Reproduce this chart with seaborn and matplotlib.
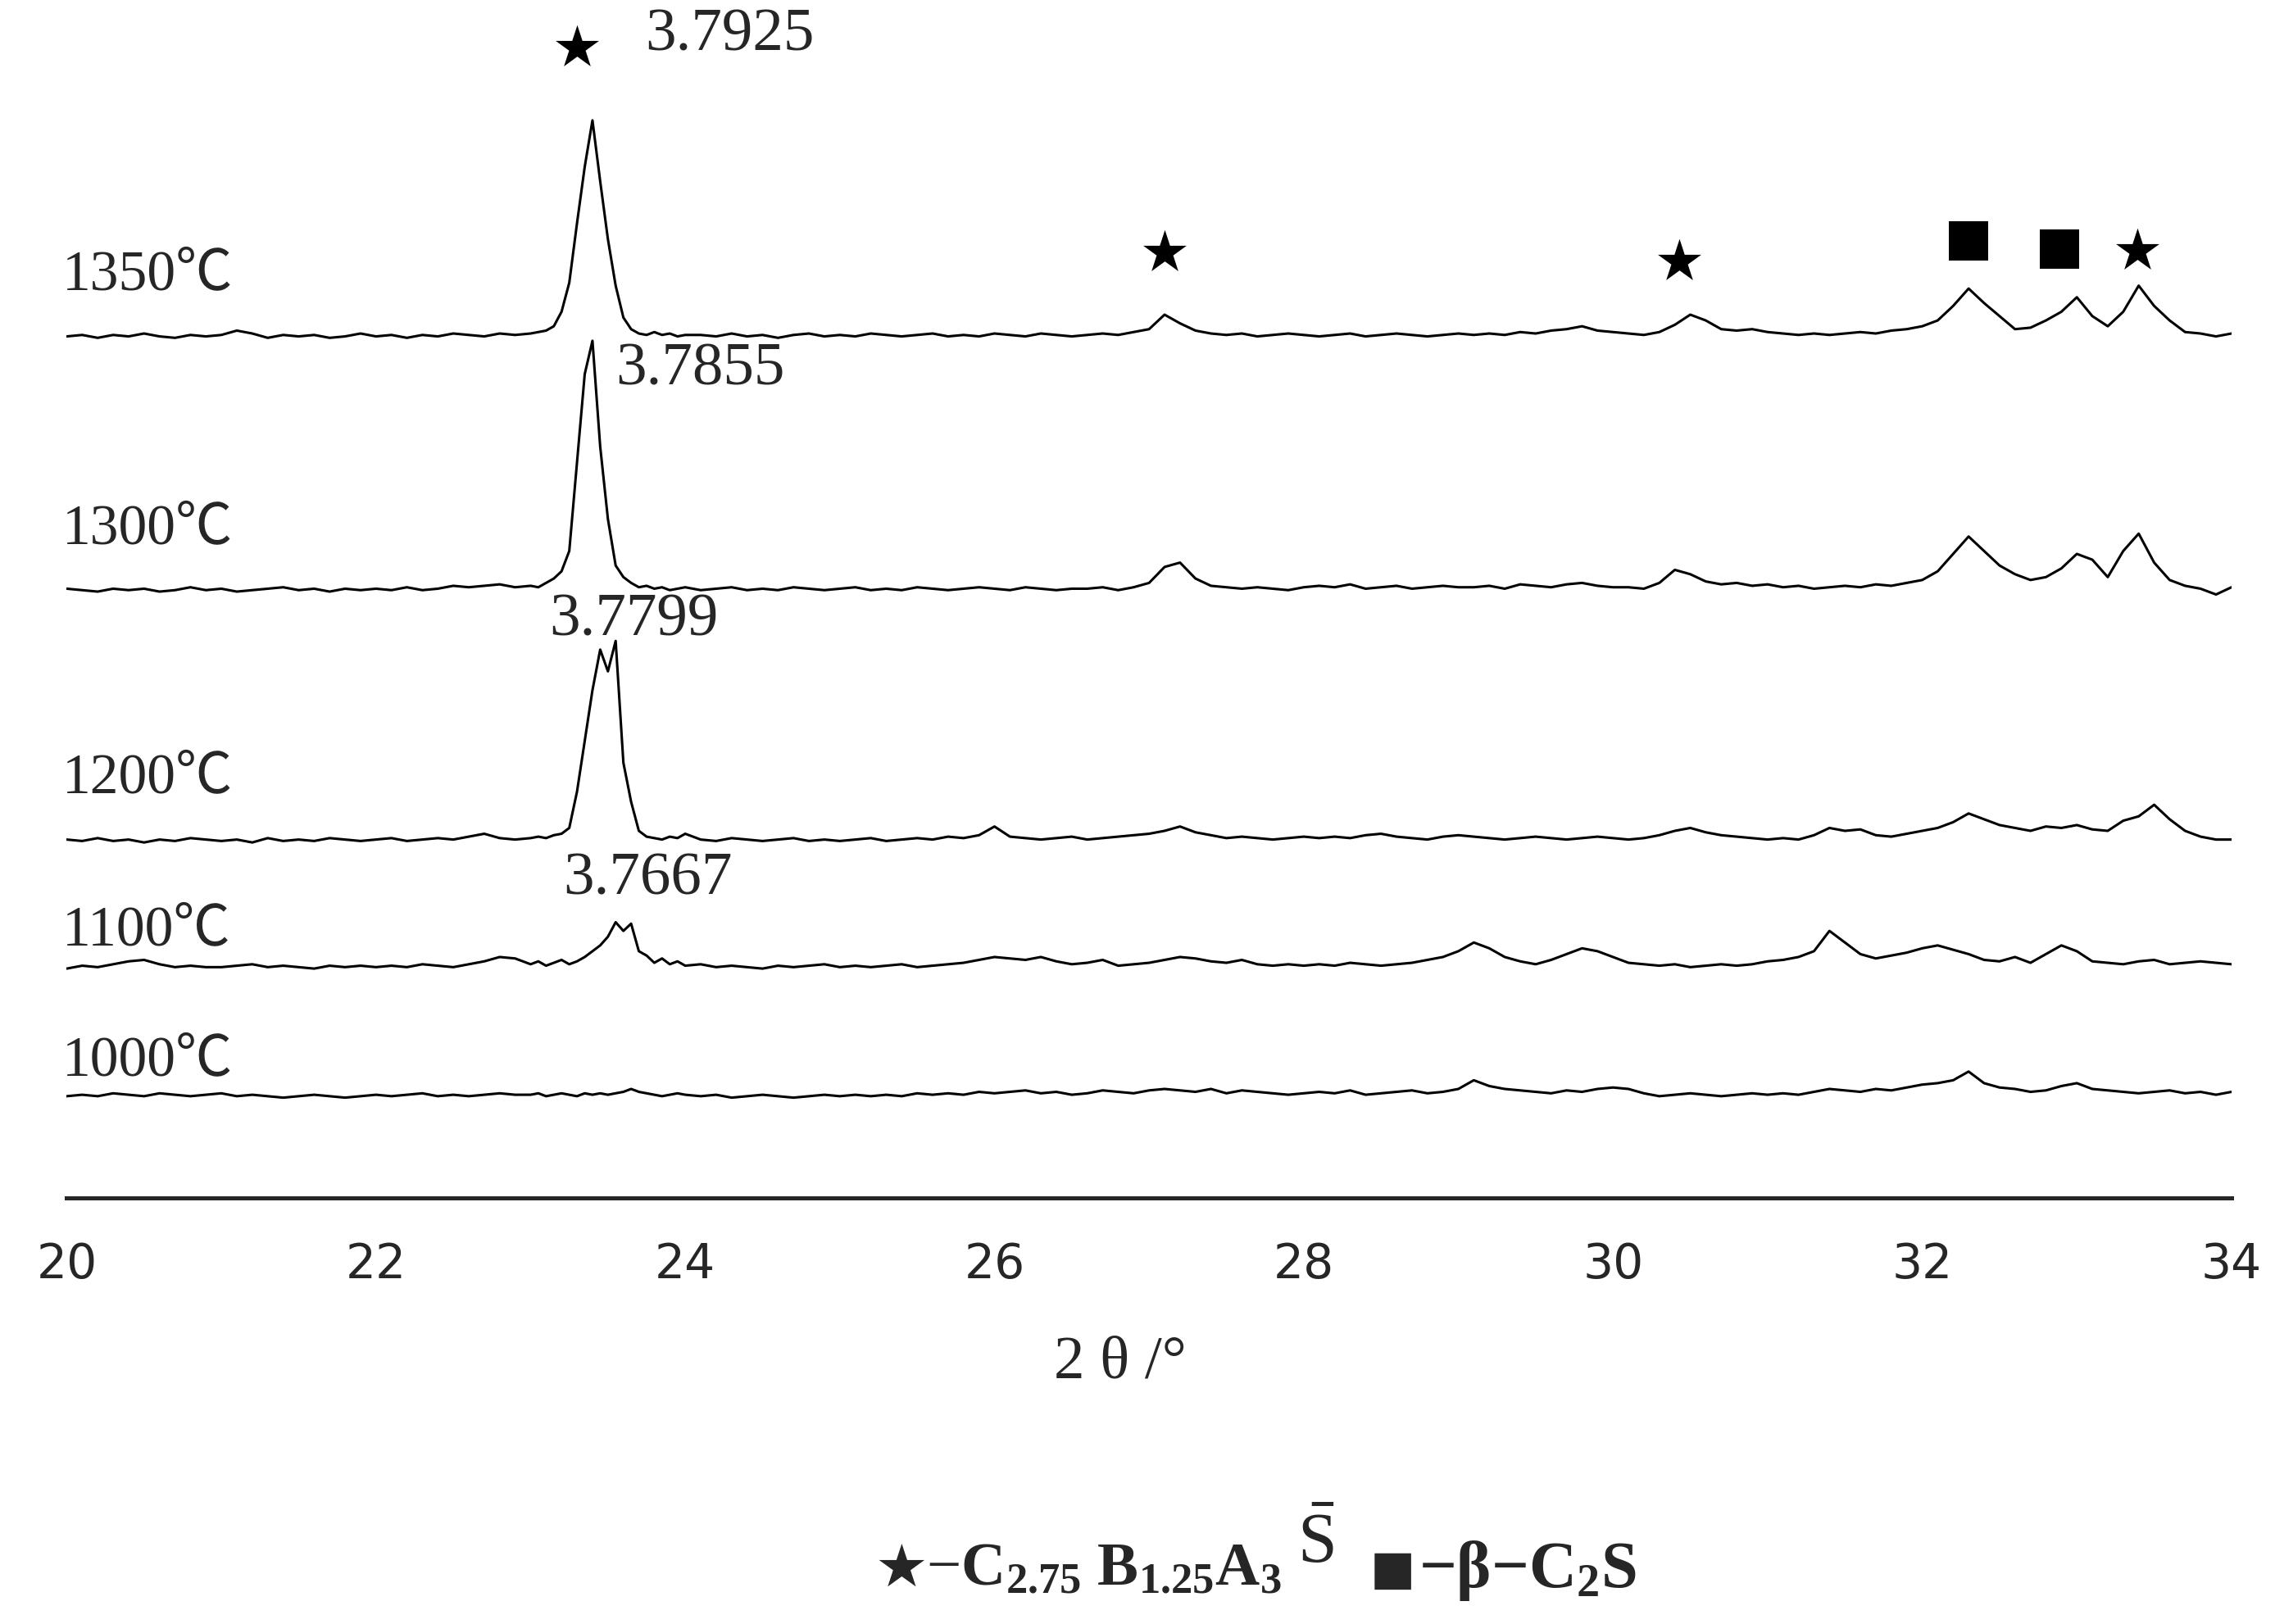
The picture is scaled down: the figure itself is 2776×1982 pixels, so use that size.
import numpy as np
import pandas as pd
import matplotlib
matplotlib.use('Agg')
import matplotlib.pyplot as plt
import seaborn as sns

# 2theta grid: 0.1 deg steps, finer (0.05) across the main peak region
theta = np.concatenate([np.arange(200, 230) / 10, np.arange(460, 481) / 20, np.arange(241, 341) / 10])

temps = ['1350℃', '1300℃', '1200℃', '1100℃', '1000℃']
offsets = [593, 418, 245, 158, 69]

# intensities above each baseline
i1350 = [1, 2, 0, 2, 1, 3, 1, 0, 2, 1, 2, 5, 3, 0, 2, 1, 2, 0, 1, 3, 1, 2, 0, 2, 1, 3, 2, 1, 3, 2,
         3, 4, 5, 8, 18, 38, 79, 118, 150, 108, 68, 36, 14, 6, 3, 2, 4, 2, 3, 1, 2,
         2, 1, 3, 1, 2, 0, 2, 3, 1, 2,
         1, 3, 2, 1, 2, 3, 1, 2, 1, 3,
         2, 1, 3, 2, 1, 2, 3, 2, 4, 6,
         16, 10, 5, 3, 2, 3, 1, 2, 3, 2,
         1, 2, 3, 1, 2, 3, 2, 1, 2, 3,
         2, 3, 2, 4, 3, 5, 6, 8, 5, 4,
         3, 2, 4, 9, 16, 12, 6, 5, 6, 4,
         3, 2, 3, 2, 3, 4, 3, 5, 6, 8,
         12, 22, 34, 24, 15, 6, 7, 12, 18, 28,
         15, 8, 18, 36, 22, 12, 4, 3, 1, 3]
i1300 = [2, 1, 0, 2, 1, 2, 0, 1, 3, 1, 2, 0, 1, 2, 3, 1, 2, 0, 2, 1, 2, 1, 3, 1, 2, 4, 3, 4, 5, 3,
         4, 3, 6, 9, 14, 28, 89, 150, 173, 100, 50, 18, 10, 6, 3, 4, 2, 3, 1, 2, 3,
         1, 2, 3, 1, 2, 1, 3, 2, 1, 2,
         3, 1, 2, 1, 3, 2, 1, 2, 3, 2,
         1, 3, 2, 1, 2, 2, 3, 1, 3, 6,
         17, 20, 9, 4, 3, 2, 3, 2, 1, 3,
         4, 3, 5, 2, 3, 4, 2, 3, 4, 3,
         3, 4, 2, 5, 4, 3, 5, 6, 4, 3,
         3, 2, 6, 15, 12, 7, 5, 6, 4, 5,
         3, 4, 2, 3, 4, 3, 5, 4, 6, 8,
         14, 26, 38, 28, 18, 12, 8, 10, 16, 26,
         22, 10, 28, 40, 20, 8, 4, 2, -2, 3]
i1200 = [2, 1, 3, 1, 2, 0, 2, 1, 3, 2, 1, 2, 0, 3, 1, 2, 1, 3, 2, 1, 2, 3, 1, 2, 3, 2, 4, 6, 3, 2,
         3, 4, 3, 5, 6, 10, 35, 70, 105, 133, 118, 139, 55, 28, 8, 4, 3, 2, 4, 3, 6,
         2, 1, 3, 2, 1, 2, 3, 1, 2, 1,
         2, 3, 1, 2, 3, 2, 4, 3, 5, 11,
         4, 3, 2, 3, 4, 2, 3, 4, 5, 6,
         8, 11, 7, 5, 3, 4, 3, 2, 3, 4,
         3, 4, 3, 5, 6, 4, 3, 2, 4, 5,
         4, 3, 2, 3, 4, 3, 2, 3, 4, 3,
         2, 3, 5, 8, 10, 7, 5, 4, 3, 2,
         3, 2, 5, 10, 8, 9, 5, 4, 6, 8,
         10, 14, 20, 16, 12, 10, 8, 11, 10, 12,
         9, 8, 15, 18, 26, 16, 8, 4, 2, 2]
i1100 = [0, 2, 1, 3, 5, 6, 3, 1, 2, 1, 1, 2, 3, 1, 2, 1, 0, 2, 1, 2, 1, 2, 1, 3, 2, 1, 3, 5, 8, 7,
         3, 5, 2, 4, 6, 3, 5, 8, 12, 16, 22, 32, 26, 31, 12, 9, 4, 7, 3, 5, 2,
         3, 1, 2, 1, 0, 2, 1, 2, 3, 1,
         2, 1, 2, 3, 1, 2, 3, 4, 6, 8,
         7, 6, 8, 5, 3, 4, 6, 2, 3, 4,
         6, 8, 7, 5, 4, 6, 3, 2, 3, 2,
         3, 2, 4, 3, 2, 3, 4, 6, 8, 12,
         18, 14, 8, 5, 3, 6, 10, 14, 12, 8,
         4, 3, 2, 3, 1, 2, 3, 2, 3, 5,
         6, 8, 12, 26, 18, 10, 7, 9, 11, 14,
         16, 13, 10, 6, 5, 8, 4, 10, 16, 12,
         5, 4, 3, 5, 6, 3, 4, 5, 4, 3]
i1000 = [1, 2, 1, 3, 2, 1, 3, 2, 1, 2, 3, 1, 2, 1, 0, 1, 2, 1, 0, 1, 2, 1, 2, 3, 1, 2, 1, 2, 3, 2,
         2, 3, 1, 2, 3, 2, 1, 3, 2, 3, 2, 3, 4, 6, 4, 3, 2, 1, 2, 3, 2,
         1, 2, 0, 1, 2, 1, 0, 1, 2, 1,
         2, 1, 2, 1, 3, 2, 3, 2, 4, 3,
         4, 5, 3, 4, 2, 3, 5, 4, 3, 5,
         6, 5, 4, 6, 3, 5, 4, 3, 2, 3,
         4, 3, 5, 2, 3, 4, 5, 3, 4, 6,
         12, 8, 6, 5, 4, 3, 5, 4, 6, 7,
         6, 3, 1, 2, 3, 2, 1, 2, 3, 2,
         3, 2, 4, 6, 5, 4, 6, 5, 7, 9,
         10, 12, 18, 10, 7, 6, 4, 5, 8, 10,
         6, 5, 4, 3, 4, 5, 3, 4, 2, 4]

temp_label_y = [636, 461, 289, 184, 94]
d_labels = ['3.7925', '3.7855', '3.7799', '3.7667']
d_x = [23.74, 23.55, 23.12, 23.21]
d_y = [801, 571, 398, 219]

star_theta = [23.30, 27.10, 30.43, 33.39]
star_y = [793, 652, 646, 653]
square_theta = [32.30, 32.89]
square_y = [660, 654]

sns.set_style('white')
plt.rcParams['font.family'] = ['Liberation Serif', 'Noto Sans CJK SC', 'DejaVu Sans']
plt.rcParams['mathtext.fontset'] = 'custom'
plt.rcParams['mathtext.rm'] = 'Liberation Serif'
plt.rcParams['mathtext.bf'] = 'Liberation Serif:bold'
plt.rcParams['mathtext.it'] = 'Liberation Serif:italic'

rows = []
for t, off, vals in zip(temps, offsets, [i1350, i1300, i1200, i1100, i1000]):
    for x, v in zip(theta, vals):
        rows.append((t, x, off + v))
df = pd.DataFrame(rows, columns=['temp', 'theta', 'intensity'])

fig = plt.figure(figsize=(13.88, 9.91), dpi=200)
ax = fig.add_axes([46 / 1568, 294 / 1120, 1492 / 1568, 826 / 1120])
sns.lineplot(data=df, x='theta', y='intensity', units='temp', estimator=None,
             color='black', lw=1.1, sort=False, ax=ax)

ax.scatter(star_theta, star_y, marker='*', s=20 ** 2, color='black', linewidths=0, clip_on=False)
ax.scatter(square_theta, square_y, marker='s', s=17 ** 2, color='black', linewidths=0, clip_on=False)

for t, y in zip(temps, temp_label_y):
    ax.text(19.97, y, t, fontsize=25, va='center', ha='left',
            family=['Liberation Serif', 'Noto Sans CJK SC'])
for lab, x, y in zip(d_labels, d_x, d_y):
    ax.text(x, y, lab, fontsize=27, va='center', ha='left')

ax.set_xlim(20, 34)
ax.set_ylim(0, 826)
ax.set_xticks(range(20, 35, 2))
ax.set_xticks(range(21, 34, 2), minor=True)
ax.set_yticks([])
ax.tick_params(axis='x', which='major', direction='in', length=9, width=1.8, pad=19, labelsize=21)
ax.tick_params(axis='x', which='minor', direction='in', length=5, width=1.8)
for lab in ax.get_xticklabels():
    lab.set_family('DejaVu Sans')
ax.spines[['left', 'top', 'right']].set_visible(False)
ax.spines['bottom'].set_linewidth(1.8)
ax.set_xlabel('')
ax.set_ylabel('')

fig.text(772 / 1568, 1 - 940 / 1120, '2 θ /°', fontsize=27, ha='center', va='center')

# legend line
fig.text(603 / 1568, 1 - 1083 / 1120, '★', fontsize=26, ha='left', va='center', family='DejaVu Sans')
fig.text(638 / 1568, 1 - 1083 / 1120,
         r'$-\mathbf{C}_{\mathbf{2.75}}\ \mathbf{B}_{\mathbf{1.25}}\mathbf{A}_{\mathbf{3}}$',
         fontsize=27, ha='left', va='center')
fig.text(894 / 1568, 1 - 1066 / 1120, r'$\bar{\mathrm{S}}$', fontsize=31, ha='left', va='center')
fig.text(944 / 1568, 1 - 1083 / 1120, '■', fontsize=21, ha='left', va='center', family='DejaVu Sans')
fig.text(978 / 1568, 1 - 1083 / 1120, '−β−' + r'$\mathbf{C}_{\mathbf{2}}\mathbf{S}$',
         fontsize=29, fontweight='bold', ha='left', va='center',
         family=['Liberation Serif', 'DejaVu Sans'])

fig.savefig('out.png', dpi=200)
